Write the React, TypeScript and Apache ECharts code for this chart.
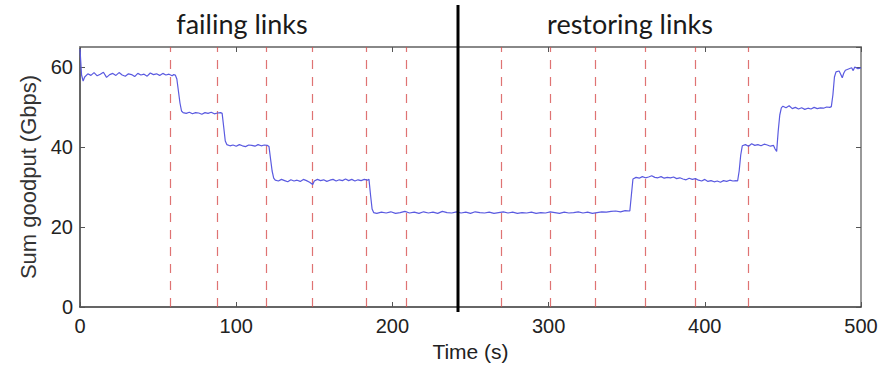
import { useEffect, useRef } from 'react';
import * as echarts from 'echarts';

// Time (s) samples and sum goodput (Gbps)
const times: number[] = [
  0, 1, 2, 3, 5, 7, 9, 11, 13, 15, 17, 19, 21, 23, 25, 27, 29, 31, 33, 35, 37, 39, 41, 43, 45, 47, 49, 51, 53, 55, 57, 59, 60,
  61, 62, 63, 64, 65, 66,
  68, 70, 72, 74, 76, 78, 80, 82, 84, 86, 88, 90, 91,
  92, 93, 94,
  96, 98, 100, 102, 104, 106, 108, 110, 112, 114, 116, 118, 120, 121,
  122, 123, 124, 125,
  127, 129, 131, 133, 135, 137, 139, 141, 143, 145, 147, 149, 150, 152, 154, 156, 158, 160, 162, 164, 166, 168, 170, 172, 174, 176, 178, 180, 182, 184, 185,
  186, 187, 188,
  190, 193, 196, 199, 202, 205, 208, 211, 214, 217, 220, 223, 226, 229, 232, 235, 238, 241, 244, 247, 250, 253, 256, 259, 262, 265, 268, 271, 274, 277, 280, 283, 286, 289, 292, 295, 298, 301, 304, 307, 310, 313, 316, 319, 322, 325, 328, 331, 334, 337, 340, 343, 346, 349, 352,
  353, 354,
  356, 358, 360, 362, 364, 366, 368, 370, 372, 374, 376, 378, 380, 382, 384, 386, 388, 390, 392, 394, 396, 398, 400, 402, 404, 406, 408, 410, 412, 414, 416, 418, 420, 421,
  422, 423, 424,
  426, 428, 430, 432, 434, 436, 438, 440, 442, 444, 445, 446,
  447, 448, 449,
  450, 452, 454, 456, 458, 460, 462, 464, 466, 468, 470, 472, 474, 476, 478, 480, 481,
  482, 483, 484,
  486, 487, 488, 489, 490, 492, 494, 495, 496, 498, 500,
];

const goodput: number[] = [
  64.5, 58, 56.5, 57.5, 58.3, 57.9, 58.6, 57.8, 58.2, 58.7, 57.4, 58.1, 58.4, 57.9, 58.6, 58.0, 57.7, 58.3, 58.1, 57.6, 58.4, 58.0, 58.2, 57.7, 58.5, 58.1, 58.3, 57.9, 58.4, 58.0, 58.2, 57.8, 58.1,
  58.0, 57.0, 54, 51, 49, 48.6,
  48.4, 48.7, 48.3, 48.6, 48.5, 48.2, 48.6, 48.4, 48.7, 48.3, 48.5, 48.6, 48.4,
  45, 41.5, 40.6,
  40.3, 40.5, 40.2, 40.6, 40.3, 40.1, 40.5, 40.4, 40.2, 40.6, 40.3, 40.5, 40.4, 40.1,
  37, 34, 32.2, 31.7,
  31.5, 31.9, 31.6, 31.3, 31.8, 31.5, 31.7, 31.4, 31.9, 31.6, 31.2, 30.6, 31.5, 31.9, 31.6, 31.8, 31.4, 31.7, 31.9, 31.5, 31.8, 31.6, 32.0, 31.6, 31.9, 31.5, 31.8, 31.6, 31.9, 31.7, 31.9,
  28, 24.5, 23.6,
  23.4, 23.7, 23.5, 23.8, 23.4, 23.6, 23.9, 23.5, 23.7, 23.4, 23.8, 23.5, 23.7, 23.4, 23.9, 23.6, 23.5, 23.8, 23.5, 23.7, 23.4, 23.8, 23.6, 23.5, 23.7, 23.4, 23.6, 23.8, 23.5, 23.7, 23.4, 23.6, 23.5, 23.7, 23.4, 23.6, 23.5, 23.8, 23.6, 23.4, 23.7, 23.5, 23.6, 23.8, 23.5, 23.7, 23.4, 23.6, 23.8, 23.7, 23.9, 24.0, 23.8, 24.1, 24.0,
  28, 32.0,
  32.4, 32.2, 32.6, 32.3, 32.5, 32.8, 32.4, 32.3, 32.6, 32.2, 32.4, 32.3, 32.5, 32.1, 32.3, 32.0, 31.8, 32.2, 31.9, 32.1, 31.7, 31.5, 31.9, 31.4, 31.6, 31.3, 31.5, 31.2, 31.6, 31.4, 31.7, 31.5, 31.6, 31.5,
  34, 38, 40.3,
  40.6, 40.2, 40.8, 40.4, 40.6, 40.3, 40.7, 40.5, 40.2, 40.4, 39.5, 38.9,
  44, 48, 49.8,
  50.2, 49.8, 50.3, 49.6, 49.9, 49.5, 49.8, 49.4, 49.7, 49.5, 49.9, 49.6, 49.8, 49.7, 50.0, 49.9, 50.1,
  53, 57.5, 58.8,
  59.0, 58.2, 57.3, 58.5, 59.2, 59.5, 59.8, 59.1, 60.0, 59.6, 59.8,
];

// Link failure / restoration instants (s)
const failTimes: number[] = [58, 88, 119, 149, 183, 209];
const restoreTimes: number[] = [270, 301, 330, 362, 394, 428];
// Boundary between the two phases (s)
const dividerTime = 242;

const phaseTitles: string[] = ['failing links', 'restoring links'];
const xAxisName = 'Time (s)';
const yAxisName = 'Sum goodput (Gbps)';
const xRange: number[] = [0, 500, 100];
const yRange: number[] = [0, 65, 20];

export default function App() {
  const ref = useRef<HTMLDivElement>(null);

  useEffect(() => {
    if (!ref.current) return;
    const chart = echarts.init(ref.current, null, { renderer: 'svg' });
    const labelFont = { fontFamily: 'Liberation Sans', fontSize: 20, color: '#222' };
    const data = times.map((t, i) => [t, goodput[i]]);
    const eventLines = [...failTimes, ...restoreTimes].map((t) => ({ xAxis: t }));
    const titleStyle = { fontFamily: 'Lato', fontSize: 27, fontWeight: 'normal', color: '#1a1a1a' };

    chart.setOption({
      animation: false,
      backgroundColor: '#fff',
      title: [
        { text: phaseTitles[0], left: 237, top: 5, textAlign: 'center', textStyle: titleStyle },
        { text: phaseTitles[1], left: 625, top: 5, textAlign: 'center', textStyle: titleStyle },
      ],
      grid: { left: 80, right: 35, top: 47, bottom: 61, show: false },
      xAxis: [
        {
          type: 'value',
          position: 'bottom',
          min: xRange[0],
          max: xRange[1],
          interval: xRange[2],
          name: xAxisName,
          nameLocation: 'middle',
          nameGap: 34,
          nameTextStyle: { fontFamily: 'Liberation Sans', fontSize: 21, color: '#222' },
          axisLine: { show: true, onZero: false, lineStyle: { color: '#333', width: 1.5 } },
          axisTick: { show: true, inside: true, length: 5, lineStyle: { color: '#555' } },
          axisLabel: { ...labelFont, margin: 9 },
          splitLine: { show: false },
        },
        {
          type: 'value',
          position: 'top',
          min: xRange[0],
          max: xRange[1],
          interval: xRange[2],
          axisLine: { show: true, onZero: false, lineStyle: { color: '#888', width: 2 } },
          axisTick: { show: true, inside: true, length: 5, lineStyle: { color: '#555' } },
          axisLabel: { show: false },
          splitLine: { show: false },
        },
      ],
      yAxis: [
        {
          type: 'value',
          position: 'left',
          min: yRange[0],
          max: yRange[1],
          interval: yRange[2],
          name: yAxisName,
          nameLocation: 'middle',
          nameGap: 41,
          nameTextStyle: { fontFamily: 'Liberation Sans', fontSize: 22, color: '#333' },
          axisLine: { show: true, onZero: false, lineStyle: { color: '#333', width: 1.5 } },
          axisTick: { show: true, inside: true, length: 5, lineStyle: { color: '#555' } },
          axisLabel: { ...labelFont, margin: 7, showMaxLabel: false },
          splitLine: { show: false },
        },
        {
          type: 'value',
          position: 'right',
          min: yRange[0],
          max: yRange[1],
          interval: yRange[2],
          axisLine: { show: true, onZero: false, lineStyle: { color: '#777', width: 1.5 } },
          axisTick: { show: true, inside: true, length: 5, lineStyle: { color: '#555' } },
          axisLabel: { show: false },
          splitLine: { show: false },
        },
      ],
      series: [
        {
          type: 'line',
          xAxisIndex: 0,
          yAxisIndex: 0,
          data,
          showSymbol: false,
          symbol: 'none',
          lineStyle: { color: '#5a5ae0', width: 1.2 },
          z: 3,
          markLine: {
            silent: true,
            symbol: ['none', 'none'],
            label: { show: false },
            lineStyle: { color: 'rgba(215,80,80,0.8)', type: [9, 8], width: 1.2 },
            data: eventLines,
            z: 2,
          },
        },
      ],
    });

    const px = chart.convertToPixel({ xAxisIndex: 0 }, dividerTime) as number;
    chart.setOption({
      graphic: [
        {
          type: 'line',
          shape: { x1: px, y1: 5, x2: px, y2: 312 },
          style: { stroke: '#000', lineWidth: 3 },
          z: 10,
        },
      ],
    });

    return () => chart.dispose();
  }, []);

  return (
    <div
      ref={ref}
      style={{ position: 'fixed', left: 0, top: 0, width: 896, height: 368 }}
    />
  );
}
